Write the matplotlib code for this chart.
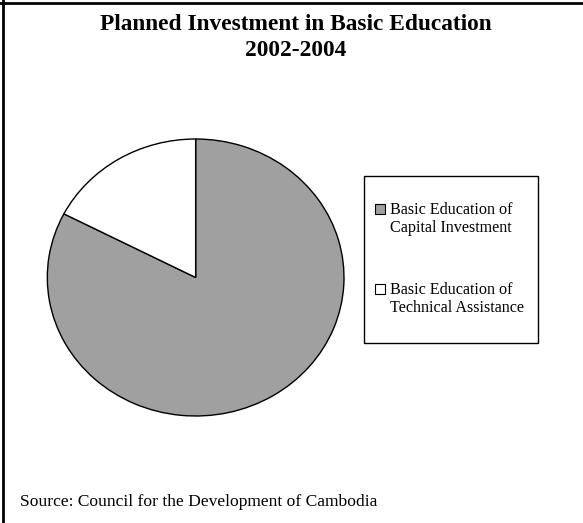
import matplotlib.pyplot as plt
from matplotlib.patches import Rectangle
from matplotlib.lines import Line2D

# Data (shares of planned investment)
categories = ["Basic Education of\nCapital Investment",
              "Basic Education of\nTechnical Assistance"]
shares = [82.6, 17.4]
colors = ["#A0A0A0", "#FFFFFF"]

W, H = 583, 523
plt.rcParams['font.family'] = ['Liberation Serif', 'DejaVu Serif']

fig = plt.figure(figsize=(W / 100, H / 100), dpi=100)


def fx(px):
    return px / W


def fy(py):
    return 1 - py / H


# Pie axes (ellipse as in the original)
ax = fig.add_axes([fx(47.3), fy(416), fx(344) - fx(47.3), fy(139) - fy(416)])
wedges, _ = ax.pie(shares, colors=colors, startangle=90, counterclock=False,
                   wedgeprops=dict(edgecolor="black", linewidth=1.0))
ax.set_aspect('auto')
ax.set_xlim(-1, 1)
ax.set_ylim(-1, 1)

# Title
fig.text(fx(296), fy(37.5), "Planned Investment in Basic Education\n2002-2004",
         ha="center", va="center", fontsize=16.8, fontweight="bold",
         linespacing=1.28)

# Legend drawn by hand
fig.add_artist(Rectangle((fx(364), fy(343)), fx(538) - fx(364), fy(176) - fy(343),
                         transform=fig.transFigure, facecolor="white",
                         edgecolor="black", linewidth=1.0))
entry_y = [209, 289]
for label, w, yy in zip(categories, wedges, entry_y):
    fig.add_artist(Rectangle((fx(375), fy(yy + 5)), fx(10), fy(0) - fy(10),
                             transform=fig.transFigure,
                             facecolor=w.get_facecolor(), edgecolor="black",
                             linewidth=0.8))
    fig.text(fx(390), fy(yy - 7), label, ha="left", va="top", fontsize=11.6,
             linespacing=1.18)

# Source note
fig.text(fx(20), fy(502), "Source: Council for the Development of Cambodia",
         ha="left", va="center", fontsize=12.6)

# Frame lines (top and left only)
fig.add_artist(Line2D([0, 1], [fy(3), fy(3)], transform=fig.transFigure,
                      color="black", linewidth=2))
fig.add_artist(Line2D([fx(3), fx(3)], [0, 1], transform=fig.transFigure,
                      color="black", linewidth=2))

fig.savefig("out.png", dpi=100)
